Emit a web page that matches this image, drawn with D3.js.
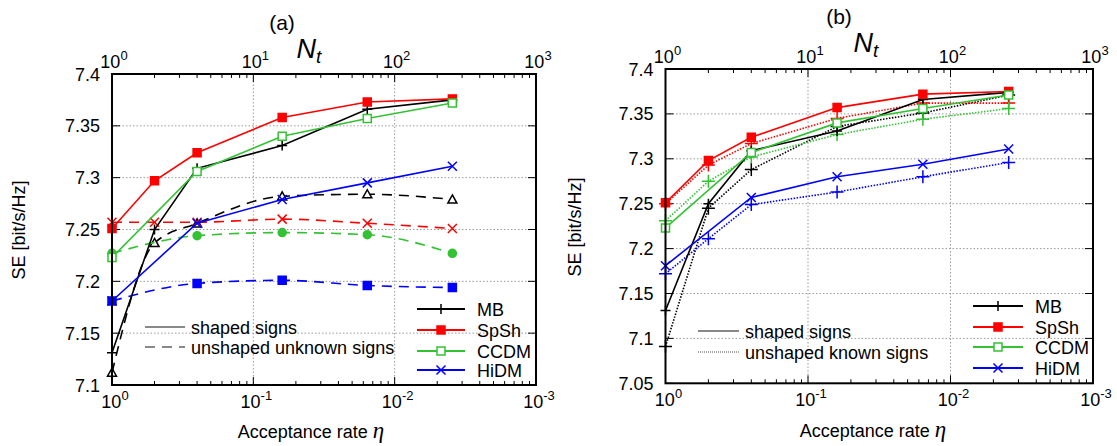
<!DOCTYPE html>
<html><head><meta charset="utf-8">
<script src="https://cdn.jsdelivr.net/npm/d3@7"></script>
<style>
body{margin:0;background:#fff}
text{font-family:"Liberation Sans",Arial,Helvetica,sans-serif;fill:#000}
</style>
</head><body>
<svg id="chart" width="1117" height="446" xmlns="http://www.w3.org/2000/svg"></svg>
<script>
// ---------- data ----------
const eta = [1, 1/2, 1/4, 1/16, 1/64, 1/256];
const seriesNames = ["MB", "SpSh", "CCDM", "HiDM"];
const etaTicks = [1, 0.1, 0.01, 0.001];
const etaTickExp = ["0", "-1", "-2", "-3"];
const ntTicks = [1, 10, 100, 1000];
const ntTickExp = ["0", "1", "2", "3"];
const yTicksA = [7.1, 7.15, 7.2, 7.25, 7.3, 7.35, 7.4];
const yTickLabelsA = ["7.1", "7.15", "7.2", "7.25", "7.3", "7.35", "7.4"];
const yTicksB = [7.05, 7.1, 7.15, 7.2, 7.25, 7.3, 7.35, 7.4];
const yTickLabelsB = ["7.05", "7.1", "7.15", "7.2", "7.25", "7.3", "7.35", "7.4"];
const styleLabelsA = ["shaped signs", "unshaped unknown signs"];
const styleLabelsB = ["shaped signs", "unshaped known signs"];

// panel (a): shaped signs (solid)
const aMB   = [7.131, 7.250, 7.309, 7.331, 7.366, 7.375];
const aSpSh = [7.251, 7.297, 7.324, 7.358, 7.373, 7.376];
const aCCDM = [7.223, null,  7.306, 7.340, 7.357, 7.372];
const aHiDM = [7.181, null,  7.256, 7.279, 7.295, 7.311];
// panel (a): unshaped unknown signs (dashed)
const aMBu   = [7.112, 7.237, 7.256, 7.282, 7.284, 7.279];
const aSpShu = [7.257, 7.257, 7.257, 7.260, 7.256, 7.251];
const aCCDMu = [7.227, null,  7.244, 7.247, 7.245, 7.227];
const aHiDMu = [7.181, null,  7.198, 7.201, 7.196, 7.194];

// panel (b): shaped signs (solid)
const bMB   = [7.131, 7.250, 7.309, 7.331, 7.366, 7.374];
const bSpSh = [7.251, 7.298, 7.324, 7.357, 7.372, 7.375];
const bCCDM = [7.223, null,  7.307, 7.340, 7.356, 7.371];
const bHiDM = [7.181, null,  7.257, 7.280, 7.294, 7.311];
// panel (b): unshaped known signs (dotted)
const bMBk   = [7.091, 7.245, 7.288, 7.336, 7.351, 7.371];
const bSpShk = [7.250, 7.293, 7.317, 7.345, 7.362, 7.362];
const bCCDMk = [7.231, 7.275, 7.302, 7.327, 7.344, 7.356];
const bHiDMk = [7.172, 7.211, 7.249, 7.263, 7.280, 7.296];

// ---------- styling ----------
const COL = {MB: "#000000", SpSh: "#ff0000", CCDM: "#33c233", HiDM: "#0000ff"};
const svg = d3.select("#chart");
svg.append("rect").attr("width", 1117).attr("height", 446).attr("fill", "#fff");

function markerPath(type, s) {
  switch (type) {
    case "plus": return `M${-s},0H${s}M0,${-s}V${s}`;
    case "cross": return `M${-s},${-s}L${s},${s}M${-s},${s}L${s},${-s}`;
    case "square": return `M${-s},${-s}H${s}V${s}H${-s}Z`;
    case "triangle": return `M0,${-s}L${s},${s*0.8}L${-s},${s*0.8}Z`;
    case "circle": return d3.symbol(d3.symbolCircle, Math.PI * s * s)();
  }
}
function drawMarker(g, type, filled, color, cx, cy, s) {
  g.append("path").attr("d", markerPath(type, s))
    .attr("transform", `translate(${cx},${cy})`)
    .attr("fill", filled ? color : (type === "plus" || type === "cross" ? "none" : "#fff"))
    .attr("stroke", color).attr("stroke-width", 1.5);
}

function panel(cfg) {
  const g = svg.append("g");
  const x = d3.scaleLog().domain([1, 1e-3]).range([cfg.left, cfg.right]);
  const xt = d3.scaleLog().domain([1, 1000]).range([cfg.left, cfg.right]);
  const y = d3.scaleLinear().domain([cfg.yTicks[0], cfg.yTicks[cfg.yTicks.length - 1]]).range([cfg.bottom, cfg.top]);

  // grid
  const grid = g.append("g").attr("stroke", "#9a9a9a").attr("stroke-width", 1).attr("stroke-dasharray", "1.5,2");
  cfg.yTicks.slice(1, -1).forEach(v => grid.append("line").attr("x1", cfg.left).attr("x2", cfg.right).attr("y1", y(v)).attr("y2", y(v)));
  etaTicks.slice(1, -1).forEach(v => grid.append("line").attr("x1", x(v)).attr("x2", x(v)).attr("y1", cfg.top).attr("y2", cfg.bottom));

  // ticks: minor and major along x (bottom: eta, top: Nt), majors along y
  const tk = g.append("g").attr("stroke", "#000").attr("stroke-width", 1);
  for (let d = 0; d < 3; d++) {
    for (let k = 2; k <= 9; k++) {
      const xv = xt(k * Math.pow(10, d));
      tk.append("line").attr("x1", xv).attr("x2", xv).attr("y1", cfg.bottom).attr("y2", cfg.bottom - 4);
      tk.append("line").attr("x1", xv).attr("x2", xv).attr("y1", cfg.top).attr("y2", cfg.top + 4);
    }
  }
  etaTicks.forEach(v => {
    tk.append("line").attr("x1", x(v)).attr("x2", x(v)).attr("y1", cfg.bottom).attr("y2", cfg.bottom - 8);
    tk.append("line").attr("x1", x(v)).attr("x2", x(v)).attr("y1", cfg.top).attr("y2", cfg.top + 8);
  });
  cfg.yTicks.forEach(v => {
    tk.append("line").attr("x1", cfg.left).attr("x2", cfg.left + 8).attr("y1", y(v)).attr("y2", y(v));
    tk.append("line").attr("x1", cfg.right).attr("x2", cfg.right - 8).attr("y1", y(v)).attr("y2", y(v));
  });

  // tick labels
  etaTicks.forEach((v, i) => {
    const t = g.append("text").attr("x", x(v) + 3).attr("y", cfg.bottom + 23).attr("text-anchor", "middle").attr("font-size", 18);
    t.append("tspan").text("10");
    t.append("tspan").attr("dy", -8).attr("font-size", 13).text(etaTickExp[i]);
  });
  ntTicks.forEach((v, i) => {
    const t = g.append("text").attr("x", xt(v) + 2).attr("y", cfg.top - 6).attr("text-anchor", "middle").attr("font-size", 18);
    t.append("tspan").text("10");
    t.append("tspan").attr("dy", -8).attr("font-size", 13).text(ntTickExp[i]);
  });
  cfg.yTicks.forEach((v, i) => {
    g.append("text").attr("x", cfg.left - 12).attr("y", y(v) + 6.5).attr("text-anchor", "end").attr("font-size", 18).text(cfg.yLabels[i]);
  });

  // axis titles
  const xl = g.append("text").attr("x", cfg.xLabelX).attr("y", cfg.xLabelY).attr("text-anchor", "middle").attr("font-size", 18);
  xl.append("tspan").text("Acceptance rate ");
  xl.append("tspan").attr("font-family", "'Liberation Serif','Times New Roman',serif").attr("font-style", "italic").attr("font-size", 23).text("η");
  g.append("text").attr("transform", `translate(${cfg.yLabelX},${cfg.yLabelY}) rotate(-90)`).attr("text-anchor", "middle").attr("font-size", 18).text("SE [bit/s/Hz]");
  g.append("text").attr("x", cfg.titleX).attr("y", cfg.titleY).attr("text-anchor", "middle")
    .attr("font-family", "'Liberation Serif','Times New Roman',serif").attr("font-size", 21).text(cfg.title);
  const nt = g.append("text").attr("x", cfg.ntX).attr("y", cfg.ntY).attr("text-anchor", "middle")
    .attr("font-family", "'Liberation Serif','Times New Roman',serif").attr("font-style", "italic").attr("font-size", 27);
  nt.append("tspan").text("N");
  nt.append("tspan").attr("dy", 5).attr("font-size", 19).text("t");

  // series
  const plot = g.append("g");
  const lineLin = d3.line().x(d => x(d.e)).y(d => y(d.v));
  const lineSmooth = d3.line().x(d => x(d.e)).y(d => y(d.v)).curve(d3.curveMonotoneX);
  function drawSeries(vals, color, dash, smooth, mType, mFilled, mSize) {
    const pts = eta.map((e, i) => ({e, v: vals[i]})).filter(d => d.v != null);
    plot.append("path").datum(pts).attr("d", smooth ? lineSmooth : lineLin)
      .attr("fill", "none").attr("stroke", color).attr("stroke-width", 1.6)
      .attr("stroke-dasharray", dash || null);
    pts.forEach(d => drawMarker(plot, mType, mFilled, color, x(d.e), y(d.v), mSize));
  }
  cfg.series(drawSeries);

  // border
  g.append("rect").attr("x", cfg.left).attr("y", cfg.top).attr("width", cfg.right - cfg.left).attr("height", cfg.bottom - cfg.top)
    .attr("fill", "none").attr("stroke", "#000").attr("stroke-width", 2);

  // legends
  const lg = g.append("g");
  cfg.styleLabels.forEach((lab, i) => {
    const yy = cfg.styleY[i];
    lg.append("line").attr("x1", cfg.styleX0).attr("x2", cfg.styleX1).attr("y1", yy).attr("y2", yy)
      .attr("stroke", "#888").attr("stroke-width", i === 0 ? 2 : (cfg.styleDash2 === "1,1" ? 1.5 : 2))
      .attr("stroke-dasharray", i === 0 ? null : cfg.styleDash2);
    lg.append("text").attr("x", cfg.styleX1 + 6).attr("y", yy + 6.5).attr("font-size", 18).text(lab);
  });
  const lm = [["plus", false, 5], ["square", true, 4], ["square", false, 4], ["cross", false, 4.5]];
  seriesNames.forEach((nm, i) => {
    const yy = cfg.legY[i];
    lg.append("line").attr("x1", cfg.legX0).attr("x2", cfg.legX1).attr("y1", yy).attr("y2", yy)
      .attr("stroke", COL[nm]).attr("stroke-width", 2);
    drawMarker(lg, lm[i][0], lm[i][1], COL[nm], (cfg.legX0 + cfg.legX1) / 2, yy, lm[i][2]);
    lg.append("text").attr("x", cfg.legX1 + 12).attr("y", yy + 6.5).attr("font-size", 18).text(nm);
  });
}

panel({
  left: 112, right: 536, top: 74, bottom: 385,
  yTicks: yTicksA, yLabels: yTickLabelsA,
  xLabelX: 311, xLabelY: 438, yLabelX: 25, yLabelY: 230,
  title: "(a)", titleX: 282, titleY: 30, ntX: 309, ntY: 58,
  styleLabels: styleLabelsA, styleX0: 145, styleX1: 185, styleY: [327, 347], styleDash2: "10,7",
  legX0: 417, legX1: 465, legY: [309, 330, 351, 370],
  series: draw => {
    draw(aMBu, COL.MB, "10,7", true, "triangle", false, 4.5);
    draw(aSpShu, COL.SpSh, "10,7", true, "cross", false, 4.5);
    draw(aCCDMu, COL.CCDM, "10,7", true, "circle", true, 4);
    draw(aHiDMu, COL.HiDM, "10,7", true, "square", true, 4);
    draw(aMB, COL.MB, null, false, "plus", false, 5);
    draw(aSpSh, COL.SpSh, null, false, "square", true, 4);
    draw(aCCDM, COL.CCDM, null, false, "square", false, 4);
    draw(aHiDM, COL.HiDM, null, false, "cross", false, 4.5);
  }
});

panel({
  left: 665.5, right: 1093, top: 69, bottom: 383.3,
  yTicks: yTicksB, yLabels: yTickLabelsB,
  xLabelX: 873, xLabelY: 437, yLabelX: 581, yLabelY: 227,
  title: "(b)", titleX: 839, titleY: 24, ntX: 866, ntY: 52,
  styleLabels: styleLabelsB, styleX0: 698, styleX1: 739, styleY: [331, 352], styleDash2: "1,1",
  legX0: 973, legX1: 1023, legY: [306, 327, 347, 368],
  series: draw => {
    draw(bMBk, COL.MB, "1.5,1.5", false, "plus", false, 6.5);
    draw(bSpShk, COL.SpSh, "1.5,1.5", false, "plus", false, 6.5);
    draw(bCCDMk, COL.CCDM, "1.5,1.5", false, "plus", false, 6.5);
    draw(bHiDMk, COL.HiDM, "1.5,1.5", false, "plus", false, 6.5);
    draw(bMB, COL.MB, null, false, "plus", false, 5);
    draw(bSpSh, COL.SpSh, null, false, "square", true, 4);
    draw(bCCDM, COL.CCDM, null, false, "square", false, 4);
    draw(bHiDM, COL.HiDM, null, false, "cross", false, 4.5);
  }
});
</script>
</body></html>
